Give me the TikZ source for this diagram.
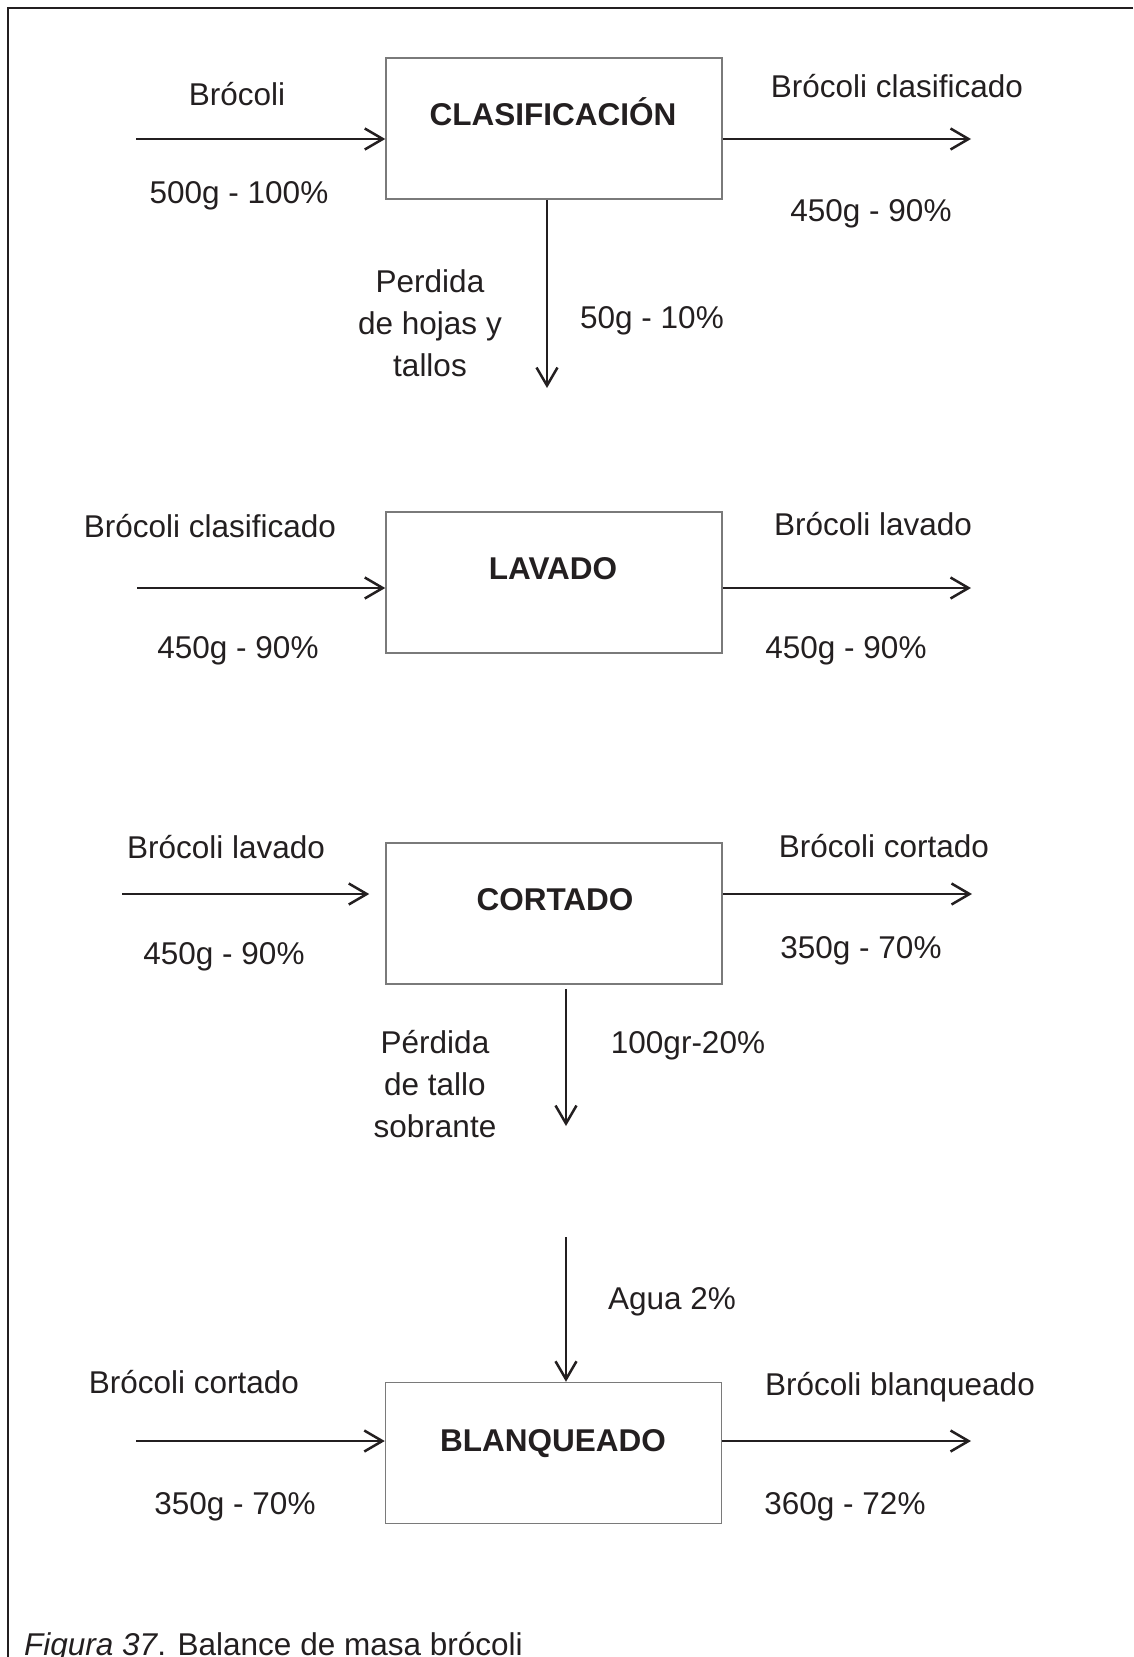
\documentclass[tikz,border=0pt]{standalone}
\usepackage{fontspec}
\setmainfont{Liberation Sans}
\usetikzlibrary{arrows.meta}
\definecolor{ink}{HTML}{231F20}
\definecolor{boxline}{HTML}{7A7A7A}
\begin{document}
\begin{tikzpicture}[x=1pt,y=-1pt,
  txt/.style={font=\fontsize{31.5}{42}\selectfont, text=ink, inner sep=0pt, anchor=base},
  btxt/.style={txt, font=\fontsize{31.5}{42}\selectfont\bfseries},
  procbox/.style={draw=boxline, line width=1.5pt, minimum width=336pt, minimum height=141pt, inner sep=0pt},
  flow/.style={draw=ink, line width=2.5pt, -{Straight Barb[length=18pt,width=21pt]}},
]
\useasboundingbox (0,0) rectangle (1133,1657);
\draw[ink, line width=2pt] (1133,7.5) -- (8,7.5) -- (8,1657);

% ---------- CLASIFICACION ----------
\node[procbox] (b1) at (554,128.5) {};
\node[btxt] (t1) at (553,125) {CLASIFICACIÓN};
\coordinate (in1) at (136,139);
\coordinate (out1) at (971,139);
\draw[flow] (in1) -- (in1 -| b1.west);
\draw[flow] (b1.east |- out1) -- (out1);
\node[txt] (l1a) at (237,105) {Brócoli};
\node[txt] (l1b) at (239,203) {500g - 100\%};
\node[txt] (r1a) at (897,97) {Brócoli clasificado};
\node[txt] (r1b) at (871,221) {450g - 90\%};
\coordinate (d1) at (547,388);
\draw[flow] (b1.south -| d1) -- (d1);
\node[txt, align=center] (p1) at (430,376) {Perdida\\de hojas y\\tallos};
\node[txt] (p1v) at (652,328) {50g - 10\%};

% ---------- LAVADO ----------
\node[procbox] (b2) at (554,582.5) {};
\node[btxt] (t2) at (553,579) {LAVADO};
\coordinate (in2) at (137,588);
\coordinate (out2) at (971,588);
\draw[flow] (in2) -- (in2 -| b2.west);
\draw[flow] (b2.east |- out2) -- (out2);
\node[txt] (l2a) at (210,537) {Brócoli clasificado};
\node[txt] (l2b) at (238,658) {450g - 90\%};
\node[txt] (r2a) at (873,535) {Brócoli lavado};
\node[txt] (r2b) at (846,658) {450g - 90\%};

% ---------- CORTADO ----------
\node[procbox] (b3) at (554,913.5) {};
\node[btxt] (t3) at (555,910) {CORTADO};
\coordinate (in3) at (122,894);
\coordinate (out3) at (972,894);
\draw[flow] (in3) -- ([xshift=-16pt]b3.west |- in3);
\draw[flow] (b3.east |- out3) -- (out3);
\node[txt] (l3a) at (226,858) {Brócoli lavado};
\node[txt] (l3b) at (224,964) {450g - 90\%};
\node[txt] (r3a) at (884,857) {Brócoli cortado};
\node[txt] (r3b) at (861,958) {350g - 70\%};
\coordinate (d2) at (566,1126);
\draw[flow] ([yshift=-4pt]b3.south -| d2) -- (d2);
\node[txt, align=center] (p2) at (435,1137) {Pérdida\\de tallo\\sobrante};
\node[txt] (p2v) at (688,1053) {100gr-20\%};

% ---------- BLANQUEADO ----------
\node[procbox] (b4) at (553.5,1453) {};
\node[btxt] (t4) at (553,1451) {BLANQUEADO};
\coordinate (w) at (566,1237);
\draw[flow] (w) -- (w |- b4.north);
\node[txt] (wv) at (672,1309) {Agua 2\%};
\coordinate (in4) at (136,1441);
\coordinate (out4) at (971,1441);
\draw[flow] (in4) -- (in4 -| b4.west);
\draw[flow] (b4.east |- out4) -- (out4);
\node[txt] (l4a) at (194,1393) {Brócoli cortado};
\node[txt] (l4b) at (235,1514) {350g - 70\%};
\node[txt] (r4a) at (900,1395) {Brócoli blanqueado};
\node[txt] (r4b) at (845,1514) {360g - 72\%};

% ---------- caption ----------
\node[txt, anchor=base west] (cap) at (24,1655) {\textit{Figura 37}. Balance de masa brócoli};
\end{tikzpicture}
\end{document}
